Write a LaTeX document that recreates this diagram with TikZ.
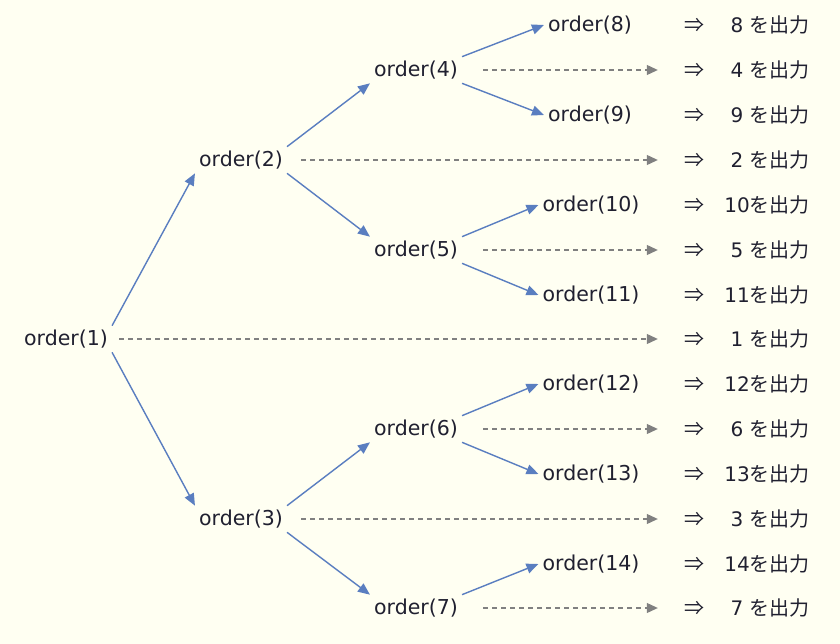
\documentclass[tikz,border=0pt]{standalone}
\usepackage{fontspec}
\setmainfont{DejaVu Sans}
\newfontfamily\jpfont{Noto Sans CJK JP}
\usepackage{xcolor}
\usetikzlibrary{positioning,arrows.meta}
\definecolor{obg}{HTML}{FFFFF2}
\definecolor{oink}{HTML}{202030}
\definecolor{oblu}{HTML}{5A7EC0}
\definecolor{ogry}{HTML}{808080}
\tikzset{
  call/.style  ={inner sep=4pt, text=oink, font=\fontsize{20.5}{24}\selectfont},
  imp/.style   ={inner sep=0pt, text=oink, font=\jpfont\fontsize{20}{24}\selectfont},
  outp/.style  ={anchor=east, inner sep=0pt, text=oink, font=\fontsize{20}{24}\selectfont},
  bflow/.style ={-{Triangle[length=12pt,width=10pt]}, line width=1.4pt, draw=oblu, fill=oblu},
  dflow/.style ={-{Triangle[length=11pt,width=10pt]}, line width=1.1pt, draw=ogry,
                 dash pattern=on 5pt off 4pt, shorten >=26pt},
}

\begin{document}
\begin{tikzpicture}[x=1pt, y=-1pt]
  \useasboundingbox (0,0) rectangle (840,644);
  \fill[obg] (0,0) rectangle (840,644);

  % calls
  \node[call] (o1)  at (66,339)  {order(1)};
  \node[call] (o2)  at (241,160) {order(2)};
  \node[call] (o3)  at (241,519) {order(3)};
  \node[call] (o4)  at (416,70)  {order(4)};
  \node[call] (o5)  at (416,250) {order(5)};
  \node[call] (o6)  at (416,429) {order(6)};
  \node[call] (o7)  at (416,608) {order(7)};
  \node[call] (o8)  at (590,25)  {order(8)};
  \node[call] (o9)  at (590,115) {order(9)};
  \node[call] (o10) at (591,205) {order(10)};
  \node[call] (o11) at (591,295) {order(11)};
  \node[call] (o12) at (591,384) {order(12)};
  \node[call] (o13) at (591,474) {order(13)};
  \node[call] (o14) at (591,564) {order(14)};

  % output column
  \foreach \n/\y/\s in {8/25/{ },4/70/{ },9/115/{ },2/160/{ },10/205/,5/250/{ },11/295/,
                        1/339/{ },12/384/,6/429/{ },13/474/,3/519/{ },14/564/,7/608/{ }} {
    \node[imp]  (i\n) at (694,\y) {⇒};
    \node[outp] (t\n) at (810,\y) {\n\s{\jpfont を出力}};
  }

  % recursive calls
  \draw[bflow] (o1.north east) -- (o2.south west);
  \draw[bflow] (o1.south east) -- (o3.north west);
  \draw[bflow] (o2.north east) -- (o4.south west);
  \draw[bflow] (o2.south east) -- (o5.north west);
  \draw[bflow] (o3.north east) -- (o6.south west);
  \draw[bflow] (o3.south east) -- (o7.north west);
  \draw[bflow] (o4.north east) -- (o8.west);
  \draw[bflow] (o4.south east) -- (o9.west);
  \draw[bflow] (o5.north east) -- (o10.west);
  \draw[bflow] (o5.south east) -- (o11.west);
  \draw[bflow] (o6.north east) -- (o12.west);
  \draw[bflow] (o6.south east) -- (o13.west);
  \draw[bflow] (o7.north east) -- (o14.west);

  % output after the calls
  \foreach \n/\g in {1/7,2/14,3/14,4/21,5/21,6/21,7/21}
    \draw[dflow, shorten <=\g pt] (o\n) -- (i\n);
\end{tikzpicture}
\end{document}
